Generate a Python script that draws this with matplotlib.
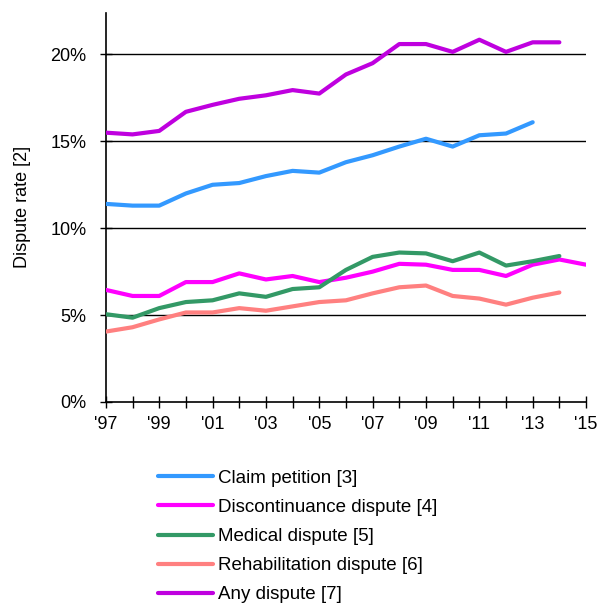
import numpy as np
import matplotlib.pyplot as plt
from matplotlib.ticker import FuncFormatter

plt.rcParams['font.family'] = ['Liberation Sans', 'DejaVu Sans']

## __DATA__________________________
years = list(range(1997, 2016))
claim = [11.4, 11.3, 11.3, 12.0, 12.5, 12.6, 13.0, 13.3, 13.2, 13.8, 14.2,
         14.7, 15.15, 14.7, 15.35, 15.45, 16.1]
discont = [6.45, 6.1, 6.1, 6.9, 6.9, 7.4, 7.05, 7.25, 6.9, 7.15, 7.5,
           7.95, 7.9, 7.6, 7.6, 7.25, 7.9, 8.2, 7.9]
medical = [5.05, 4.85, 5.4, 5.75, 5.85, 6.25, 6.05, 6.5, 6.6, 7.6, 8.35,
           8.6, 8.55, 8.1, 8.6, 7.85, 8.1, 8.4]
rehab = [4.05, 4.3, 4.75, 5.15, 5.15, 5.4, 5.25, 5.5, 5.75, 5.85, 6.25,
         6.6, 6.7, 6.1, 5.95, 5.6, 6.0, 6.3]
anyd = [15.5, 15.4, 15.6, 16.7, 17.1, 17.45, 17.65, 17.95, 17.75, 18.85,
        19.5, 20.6, 20.6, 20.15, 20.85, 20.15, 20.7, 20.7]

series = [
    ('Claim petition [3]', claim, '#3399FF'),
    ('Discontinuance dispute [4]', discont, '#FF00FF'),
    ('Medical dispute [5]', medical, '#339966'),
    ('Rehabilitation dispute [6]', rehab, '#FF8080'),
    ('Any dispute [7]', anyd, '#BF00DF'),
]

## __PLOT__________________________
fig = plt.figure(figsize=(5.98, 6.09), dpi=100)
ax = fig.add_axes([0.177, 0.34, 0.803, 0.639])

for label, vals, col in series:
    ax.plot(years[:len(vals)], vals, '-', lw=3, color=col, label=label,
            solid_capstyle='round', zorder=3)

ax.set_xlim(1997, 2015)
ax.set_ylim(0, 22.4)
ax.set_xticks(years)
ax.set_xticklabels(["'%02d" % (y % 100) if (y - 1997) % 2 == 0 else '' for y in years])
ax.set_yticks([0, 5, 10, 15, 20])
ax.yaxis.set_major_formatter(FuncFormatter(lambda v, p: '%d%%' % v))
for v in [5, 10, 15, 20]:
    ax.axhline(v, color='black', lw=1, zorder=1)

for s in ['top', 'right']:
    ax.spines[s].set_visible(False)
for s in ['left', 'bottom']:
    ax.spines[s].set_linewidth(1.2)
ax.tick_params(direction='inout', length=8, width=1, labelsize=13)
ax.tick_params(axis='y', pad=10)
ax.tick_params(axis='x', pad=6)
ax.set_ylabel('Dispute rate [2]', fontsize=13)
ax.yaxis.set_label_coords(-0.155, 0.5)

fig.legend(loc='upper left', bbox_to_anchor=(0.252, 0.241), frameon=False,
           fontsize=13.5, handlelength=2.9, handletextpad=0.3, labelspacing=0.64,
           borderaxespad=0)

plt.savefig('out.png', dpi=100)
